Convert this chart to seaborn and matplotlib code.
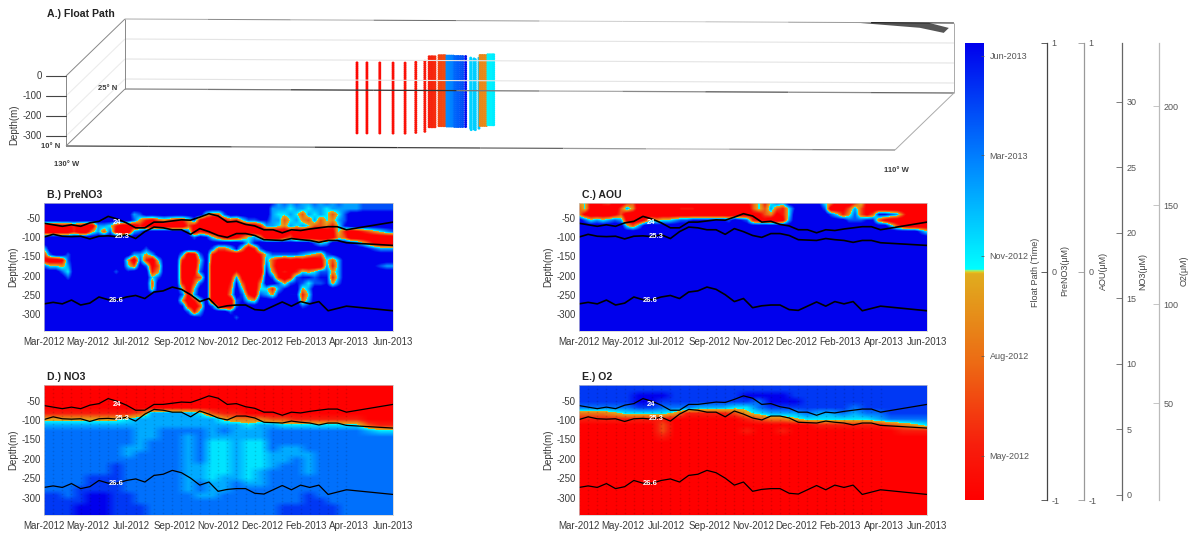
import numpy as np
import pandas as pd
import matplotlib
matplotlib.use('Agg')
import matplotlib.pyplot as plt
from matplotlib.colors import LinearSegmentedColormap
import seaborn as sns

W, H = 1197, 535

# TIME AXIS (DAYS SINCE START, EVENLY SPACED MONTH LABELS)
MONTHS = ['Mar-2012', 'May-2012', 'Jul-2012', 'Sep-2012', 'Nov-2012',
          'Dec-2012', 'Feb-2013', 'Apr-2013', 'Jun-2013']
LAST_DAY = 457
DEPTH_TICKS = [-300, -250, -200, -150, -100, -50]

# ISOPYCNALS
iso_days = [0, 12, 24, 36, 48, 60, 72, 84, 96, 108, 120, 132, 144, 156, 168, 180, 192, 204,
            216, 228, 240, 252, 264, 276, 288, 300, 312, 324, 336, 348, 360, 372, 384, 396, 457]
iso_24 = [-63, -67, -71, -67, -71, -62, -58, -45, -52, -62, -75, -75, -60, -60, -57, -54, -55, -47,
          -38, -44, -60, -58, -66, -70, -80, -80, -88, -80, -82, -78, -75, -72, -72, -80, -60]
iso_253 = [-99, -92, -97, -98, -97, -104, -97, -96, -98, -93, -103, -85, -73, -75, -80, -80, -92, -77,
           -85, -95, -100, -90, -90, -95, -106, -107, -108, -103, -106, -108, -113, -108, -108, -114, -121]
iso_266 = [-274, -270, -274, -264, -277, -272, -256, -263, -263, -256, -252, -260, -243, -240, -230, -236, -250, -268,
           -260, -284, -279, -277, -277, -289, -291, -280, -269, -280, -268, -274, -268, -292, -286, -280, -292]
iso_names = ['24', '25.3', '26.6']
iso_label_days = [95, 102, 94]
iso_label_depths = [-61, -97, -264]

# FIELDS, ONE DIGIT PER CELL: 0 = RED END OF COLOUR SCALE, 9 = BLUE END
# ROWS ARE 15 M APART FROM -10 M DOWN TO -340 M
pre_no3 = [
    "9999999999 9999999999 9999999999 9999999986 7676676767 666777777",
    "9999999999 9999999999 9999999999 9999999966 6566566566 666777777",
    "9999999999 9999967999 9999999533 7999999965 5653656535 799999999",
    "9999999999 9999974213 4322471000 1325778866 3564363546 799999999",
    "0001121006 6520002000 0000310000 0000002665 4656533425 899999999",
    "0000020046 3710067999 9999702100 0000000000 0100000015 201234567",
    "9999999999 9999999999 9999979853 1013564000 2300000014 300000000",
    "9999999999 9999999999 9999999999 9998589999 9999975699 987531000",
    "5999999999 9999999799 9999999973 3584027999 9999999999 999987666",
    "2799799999 9999966469 9996017920 0000002577 7776543789 999999999",
    "1001799999 9999407205 9992005910 0000001631 0101001536 999999999",
    "7554699999 9999539713 9991006900 0000001730 0010000626 999998766",
    "9997599999 9979899924 9991017900 0020000841 2125457746 999999999",
    "9999799999 9999999957 9991023900 0161002972 0278878826 999999999",
    "9999999999 9999999939 9992037900 0283004997 4787577847 999999999",
    "9999999999 9999999949 9995059900 0395005526 8994699999 999999999",
    "9999999999 9999999999 9997169900 0497207648 9882599999 999999999",
    "9999999999 9999999999 9994025900 0078549999 9993699999 999999999",
    "9999999999 9999999999 9998203972 0079999999 9997899999 999999999",
    "9999999999 9999999999 9999726999 9799999999 9999999999 999999999",
    "9999999999 9999999999 9999998999 9979999999 9999999999 999999999",
]
aou = [
    "4510230023 0000000000 0000000013 5257699999 8540102510 000000000",
    "3510100364 0000000222 0000000003 5363258999 9700136310 000000000",
    "4100001300 0000000000 0000000001 1341259999 9975247313 887630000",
    "9756567610 0254556778 8888879872 1100169999 9999977788 310000000",
    "9999999953 6999999999 9999999999 9999999999 9999999999 996310000",
    "9999999999 9999999999 9999999999 9999999999 9999999999 999999975",
]
no3 = [
    "0000000000 0000000000 0000000000",
    "0000000000 0000000000 0000000000",
    "0000000000 0000000000 0000000000",
    "0000000000 0000000000 0000000000",
    "0000000000 0000000000 0000000000",
    "1111111126 6665211000 0000000000",
    "4444444566 6666643332 2111111000",
    "6666666666 6666666566 5555555211",
    "7777777766 7777676667 7777777655",
    "7777777766 7767666667 7777777777",
    "7777777767 7767556557 7777777777",
    "7777777667 7767556557 6677777777",
    "7777777677 7767556556 6667777777",
    "7777777777 7767556556 6767777777",
    "7777778777 7766556556 7767777777",
    "7777778777 7766556567 7767777777",
    "7777888777 7766566567 7777777777",
    "7777888777 7767667667 7777777777",
    "7778888777 7767667777 7777777777",
    "8878998877 7776677777 7787777777",
    "8888998877 7777777777 7788777777",
    "8889998887 7777777777 8888877777",
    "8889998887 7777777777 8888877777",
]
o2 = [
    "8888888888 8888888888 8888888888",
    "8888888888 8888888888 8888888888",
    "8888899988 8888999988 8888888888",
    "8888899888 8888879998 8888888888",
    "7777788777 6665578888 8887888888",
    "3334555541 1112456667 6676778888",
    "1111111100 0000123345 5555567777",
    "0000000200 0000000000 1111112345",
    "0000000200 0000100100 0000000111",
    "0000000100 0000000000 0000000000",
]

# FLOAT PATH (ONE ENTRY PER PROFILE)
float_lon = [-123.34, -123.10, -122.79, -122.47, -122.18, -121.94, -121.75,
             -121.76, -121.71, -121.67, -121.62,
             -121.55, -121.50, -121.45, -121.41,
             -121.35, -121.30, -121.25, -121.20,
             -121.15, -121.10, -121.06, -121.01, -120.96, -120.89,
             -120.73, -120.68, -120.63, -120.58, -120.53,
             -120.57, -120.52, -120.47, -120.42,
             -120.40, -120.35, -120.30, -120.26]
float_lat = [13.8, 13.8, 13.8, 13.8, 13.8, 14.0, 14.3,
             15.5, 15.5, 15.5, 15.5,
             15.8, 15.8, 15.8, 15.8,
             15.7, 15.7, 15.7, 15.7,
             15.6, 15.6, 15.6, 15.6, 15.6, 15.6,
             15.2, 14.8, 15.0, 14.8, 15.2,
             15.9, 15.9, 15.9, 15.9,
             16.1, 16.1, 16.1, 16.1]
float_time = [0.03, 0.04, 0.05, 0.06, 0.07, 0.08, 0.09,
              0.12, 0.13, 0.14, 0.15,
              0.20, 0.21, 0.22, 0.23,
              0.72, 0.73, 0.74, 0.75,
              0.80, 0.81, 0.82, 0.83, 0.84, 0.97,
              0.58, 0.59, 0.60, 0.60, 0.61,
              0.38, 0.38, 0.39, 0.39,
              0.52, 0.53, 0.53, 0.54]
float_depths = [0, -10, -20, -30, -40, -50, -60, -70, -80, -90, -100, -110, -120, -130, -140, -150, -160, -170,
                -180, -190, -200, -210, -220, -230, -240, -250, -260, -270, -280, -290, -300, -310, -320, -330, -340, -350]
box_lon = [-130, -110]
box_lat = [10, 25]
box_depth = [0, -350]
box_ticks = [0, -100, -200, -300]
land_lon = [-112.4, -110.6, -110.0, -110.0, -110.7]
land_lat = [25.0, 25.0, 23.7, 22.4, 23.7]

# COLOUR BAR AND SIDE AXES
cbar_labels = ['May-2012', 'Aug-2012', 'Nov-2012', 'Mar-2013', 'Jun-2013']
cbar_ticks = [0.097, 0.316, 0.535, 0.754, 0.972]
pm_ticks = [-1, 0, 1]
no3_ticks = [0, 5, 10, 15, 20, 25, 30]
o2_ticks = [50, 100, 150, 200]

sns.set_theme(style='white')
plt.rcParams['font.family'] = ['Liberation Sans', 'DejaVu Sans']

CMAP = LinearSegmentedColormap.from_list('float_jet', [
    (0.0, (1.0, 0.0, 0.0)),
    (0.12, (0.97, 0.12, 0.05)),
    (0.30, (0.93, 0.42, 0.08)),
    (0.497, (0.88, 0.68, 0.12)),
    (0.50, (0.95, 0.92, 0.12)),
    (0.505, (0.0, 1.0, 1.0)),
    (0.75, (0.0, 0.5, 1.0)),
    (1.0, (0.0, 0.0, 0.93)),
])
TXT = '#3a3a3a'
FS = 7


def px_axes(x0, y0, x1, y1):
    return fig.add_axes([x0 / W, 1 - y1 / H, (x1 - x0) / W, (y1 - y0) / H])


def to_grid(rows, fill='9', n_rows=23):
    rows = [r.replace(' ', '') for r in rows]
    rows = rows + [fill * len(rows[0])] * (n_rows - len(rows))
    return np.array([[int(c) for c in r] for r in rows]) / 9


def draw_field(box, rows, title, fill='9', lw=0.9, clim=(0, 1), dots=False):
    ax = px_axes(*box)
    grid = to_grid(rows, fill)
    half_x = LAST_DAY / (grid.shape[1] - 1) / 2
    ax.imshow(grid, cmap=CMAP, vmin=clim[0], vmax=clim[1], aspect='auto', interpolation='bilinear',
              interpolation_stage='data', extent=[-half_x, LAST_DAY + half_x, -347.5, -2.5])
    if dots:
        # FAINT SAMPLE POINTS OF THE FLOAT PROFILES
        dx, dz = np.meshgrid(iso_days[:-1], float_depths)
        sns.scatterplot(x=dx.ravel(), y=dz.ravel(), color='black', alpha=0.13, s=1.5, linewidth=0, ax=ax)
    for iso in [iso_24, iso_253, iso_266]:
        sns.lineplot(x=iso_days, y=iso, color='black', lw=lw, estimator=None, ax=ax)
    for name, d, z in zip(iso_names, iso_label_days, iso_label_depths):
        ax.text(d, z, name, color='white', fontsize=5.5, fontweight='bold', ha='center', va='center')
    ax.set_xlim(0, LAST_DAY)
    ax.set_ylim(-345, -10)
    ax.set_xticks(np.linspace(0, LAST_DAY, len(MONTHS)))
    ax.set_xticklabels(MONTHS, fontsize=FS, color=TXT)
    ax.set_yticks(DEPTH_TICKS)
    ax.set_yticklabels(DEPTH_TICKS, fontsize=FS, color=TXT)
    ax.tick_params(length=0, pad=2.5)
    ax.tick_params(axis='x', pad=4)
    ax.set_ylabel('Depth(m)', fontsize=FS, color=TXT)
    ax.yaxis.set_label_coords(-26 / (box[2] - box[0]), 0.5)
    for s in ax.spines.values():
        s.set_color('#cccccc')
        s.set_linewidth(0.5)
    fig.text((box[0] + 3) / W, 1 - (box[1] - 8) / H, title, fontsize=7.6, fontweight='bold',
             color='#222222', va='center')
    return ax


def project(lon, lat, depth):
    # OBLIQUE VIEW OF THE FLOAT BOX, IN FIGURE PIXELS
    lon, lat, depth = np.asarray(lon, float), np.asarray(lat, float), np.asarray(depth, float)
    x = 66 + 41.45 * (lon + 130) + 3.93 * (lat - 10)
    y = 76 + 0.2 * (lon + 130) - 3.8 * (lat - 10) - 0.2 * depth
    return x, y


def box_line(ax, a, b, color='#888888', lw=0.7, greys=None):
    xa, ya = project(*a)
    xb, yb = project(*b)
    if greys is None:
        ax.plot([xa, xb], [ya, yb], color=color, lw=lw, solid_capstyle='butt')
        return
    # MATLAB EXPORT FADES THESE EDGES ALONG THEIR LENGTH
    for i, g in enumerate(greys):
        f0, f1 = i / len(greys), (i + 1) / len(greys)
        ax.plot([xa + (xb - xa) * f0, xa + (xb - xa) * f1], [ya + (yb - ya) * f0, ya + (yb - ya) * f1],
                color=g, lw=lw, solid_capstyle='butt')


TOP_GREYS = ['#aaaaaa', '#888888', '#aaaaaa', '#666666', '#999999', '#cccccc', '#cccccc', '#bbbbbb', '#999999', '#111111']
BACK_GREYS = ['#888888', '#777777', '#333333', '#333333', '#777777', '#aaaaaa', '#888888', '#555555', '#888888', '#666666']
FRONT_GREYS = ['#444444', '#444444', '#777777', '#333333', '#444444', '#666666', '#999999', '#bbbbbb', '#999999', '#888888']

fig = plt.figure(figsize=(W / 100, H / 100), dpi=100)

# A.) FLOAT PATH
ax_a = fig.add_axes([0, 0, 1, 1])

w, e = box_lon
s, n = box_lat
top, bot = box_depth
for z in box_ticks[1:]:
    box_line(ax_a, (w, n, z), (e, n, z), color='#e4e4e4', lw=0.8)
    box_line(ax_a, (w, s, z), (w, n, z), color='#ececec', lw=0.8)
box_line(ax_a, (w, n, top), (e, n, top), greys=TOP_GREYS)
box_line(ax_a, (w, n, bot), (e, n, bot), lw=0.9, greys=BACK_GREYS)
box_line(ax_a, (w, s, bot), (e, s, bot), lw=0.9, greys=FRONT_GREYS)
box_line(ax_a, (w, s, bot), (w, n, bot))
box_line(ax_a, (w, s, top), (w, n, top))
box_line(ax_a, (w, n, bot), (w, n, top))
box_line(ax_a, (w, s, bot), (w, s, top))
box_line(ax_a, (e, n, bot), (e, n, top), color='#aaaaaa')
box_line(ax_a, (e, s, bot), (e, n, bot), color='#aaaaaa')

land_x, land_y = project(land_lon, land_lat, np.zeros(len(land_lon)))
ax_a.fill(land_x, land_y, color='#555555', lw=0)

rows = []
for lon, lat, t in zip(float_lon, float_lat, float_time):
    for z in float_depths:
        x, y = project(lon, lat, z)
        rows.append({'x': float(x), 'y': float(y), 'time': t})
df = pd.DataFrame(rows)
sns.scatterplot(data=df, x='x', y='y', hue='time', palette=CMAP, hue_norm=(0, 1), s=4.5, linewidth=0,
                legend=False, ax=ax_a)
ax_a.set_xlim(0, W)
ax_a.set_ylim(H, 0)
ax_a.axis('off')

for z in box_ticks:
    xt, yt = project(w, s, z)
    ax_a.plot([xt - 20, xt], [yt, yt], color='#444444', lw=0.8)
    ax_a.text(xt - 24, yt, str(z), fontsize=FS, color=TXT, ha='right', va='center')
ax_a.text(14, 125, 'Depth(m)', fontsize=FS, color=TXT, rotation=90, ha='center', va='center')
ax_a.text(47, 14, 'A.) Float Path', fontsize=7.6, fontweight='bold', color='#222222', va='center')
ax_a.text(51, 147, '10° N', fontsize=5.5, fontweight='bold', color=TXT, ha='center', va='center')
ax_a.text(108, 89, '25° N', fontsize=5.5, fontweight='bold', color=TXT, ha='center', va='center')
ax_a.text(67, 165, '130° W', fontsize=5.5, fontweight='bold', color=TXT, ha='center', va='center')
ax_a.text(896, 170, '110° W', fontsize=5.5, fontweight='bold', color=TXT, ha='center', va='center')

# B-E.) SECTIONS
draw_field((44, 203, 393, 331), pre_no3, 'B.) PreNO3', lw=1.2, clim=(0.15, 0.9))
draw_field((579, 203, 927, 331), aou, 'C.) AOU', lw=1.2, clim=(0.15, 0.9))
draw_field((44, 385, 393, 515), no3, 'D.) NO3', dots=True)
draw_field((579, 385, 927, 515), o2, 'E.) O2', fill='0', dots=True)

# COLOUR BAR
ax_c = px_axes(965, 43, 984, 500)
ax_c.imshow(np.linspace(1, 0, 512).reshape(-1, 1), cmap=CMAP, vmin=0, vmax=1, aspect='auto', extent=[0, 1, 0, 1])
ax_c.set_xticks([])
ax_c.yaxis.tick_right()
ax_c.set_yticks(cbar_ticks)
ax_c.set_yticklabels(cbar_labels, fontsize=6.5, color='#555555')
ax_c.tick_params(axis='y', length=2, width=0.5, color='#555555', direction='in', pad=4)
for sp in ax_c.spines.values():
    sp.set_visible(False)


# SIDE AXES
def side_axis(x, ticks, lims, color, label, label_x, lw=0.9):
    ax = px_axes(x, 43, x + 0.5, 500)
    ax.patch.set_visible(False)
    ax.set_xticks([])
    ax.set_ylim(*lims)
    ax.set_yticks(ticks)
    ax.set_yticklabels(ticks, fontsize=6.5, color='#555555')
    ax.tick_params(axis='y', left=True, right=False, labelleft=False, labelright=True,
                   length=4, width=0.6, color=color, direction='out', pad=-1)
    for name, sp in ax.spines.items():
        sp.set_visible(name == 'left')
    ax.spines['left'].set_color(color)
    ax.spines['left'].set_linewidth(lw)
    fig.text(label_x / W, 1 - 271 / H, label, fontsize=6.5, color='#444444', rotation=90, ha='center', va='center')


side_axis(1046.5, pm_ticks, (-1, 1), '#444444', 'PreNO3(μM)', 1065)
side_axis(1084, pm_ticks, (-1, 1), '#999999', 'AOU(μM)', 1103)
side_axis(1122, no3_ticks, (-0.4, 34.5), '#666666', 'NO3(μM)', 1143)
side_axis(1159, o2_ticks, (1, 232), '#bbbbbb', 'O2(μM)', 1184)
fig.text(1036 / W, 1 - 272 / H, 'Float Path (Time)', fontsize=6.5, color='#444444', rotation=90, ha='center', va='center')

fig.savefig('out.png', dpi=100)
